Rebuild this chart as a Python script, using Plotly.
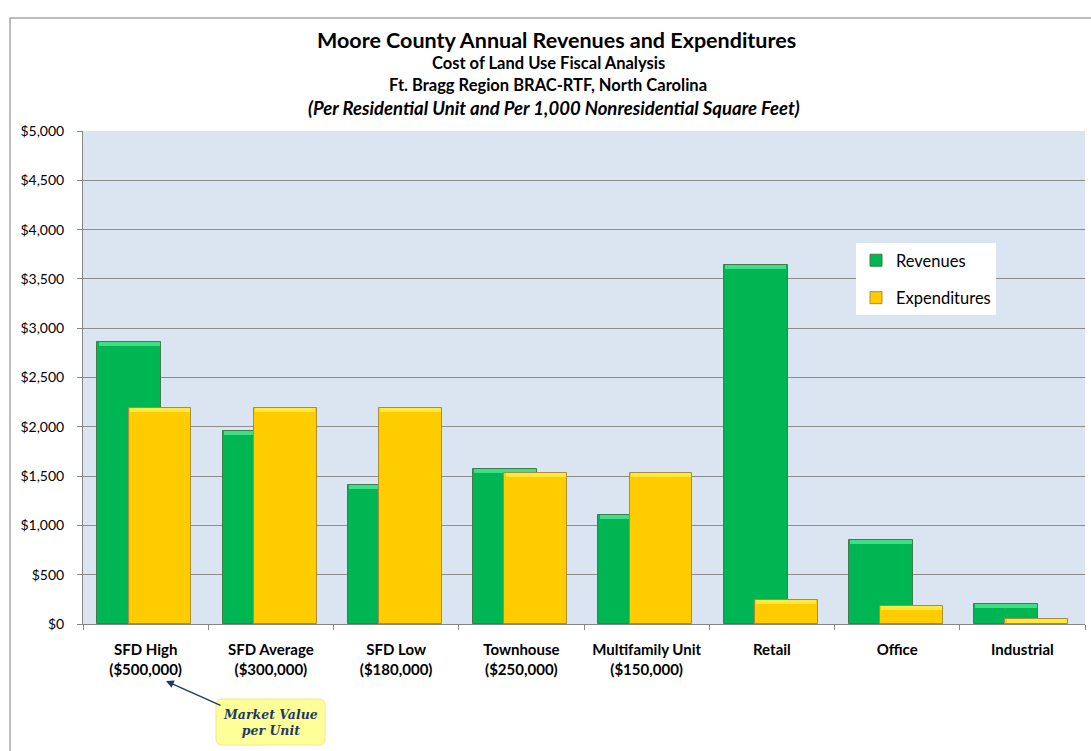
import plotly.graph_objects as go

categories = ["SFD High<br>($500,000)", "SFD Average<br>($300,000)", "SFD Low<br>($180,000)",
              "Townhouse<br>($250,000)", "Multifamily Unit<br>($150,000)", "Retail", "Office", "Industrial"]
revenues = [2860, 1955, 1405, 1570, 1110, 3645, 850, 205]
expenditures = [2195, 2195, 2195, 1530, 1530, 240, 180, 55]
y_ticks = [0, 500, 1000, 1500, 2000, 2500, 3000, 3500, 4000, 4500, 5000]
y_tick_labels = ["$0", "$500", "$1,000", "$1,500", "$2,000", "$2,500", "$3,000",
                 "$3,500", "$4,000", "$4,500", "$5,000"]

FONT = "Lato"
W, H = 1091, 751
L, R, T, B = 83, 6, 131, 127
PW = W - L - R
PH = H - T - B
BEVEL = 40  # data units for the lighter top strip

def px(x):
    return (x - L) / PW

def py(y):
    return (H - B - y) / PH

fig = go.Figure()
fig.add_trace(go.Bar(
    x=categories, y=revenues, name="Revenues",
    width=0.51, offset=-0.385,
    marker=dict(color="#00b652", line=dict(color="#3f7d4f", width=1)),
    legendgroup="a",
))
fig.add_trace(go.Bar(
    x=categories, y=[BEVEL] * len(revenues), base=[v - BEVEL for v in revenues],
    width=0.49, offset=-0.375, showlegend=False, hoverinfo="skip",
    marker=dict(color="#3fde86", line=dict(width=0)),
    legendgroup="a",
))
fig.add_trace(go.Bar(
    x=categories, y=expenditures, name="Expenditures",
    width=0.50, offset=-0.135,
    marker=dict(color="#ffcc00", line=dict(color="#a88d3a", width=1)),
    legendgroup="b",
))
fig.add_trace(go.Bar(
    x=categories, y=[BEVEL] * len(expenditures), base=[v - BEVEL for v in expenditures],
    width=0.48, offset=-0.125, showlegend=False, hoverinfo="skip",
    marker=dict(color="#ffe93c", line=dict(width=0)),
    legendgroup="b",
))

annotations = [
    dict(text="<b>Moore County Annual Revenues and Expenditures</b>", x=px(556), y=py(40),
         font=dict(size=21.5, color="#000000", family=FONT)),
    dict(text="<b>Cost of Land Use Fiscal Analysis</b>", x=px(548), y=py(63),
         font=dict(size=16.5, color="#000000", family=FONT)),
    dict(text="<b>Ft. Bragg Region BRAC-RTF, North Carolina</b>", x=px(548), y=py(85),
         font=dict(size=16.5, color="#000000", family=FONT)),
    dict(text="<b><i>(Per Residential Unit and Per 1,000 Nonresidential Square Feet)</i></b>", x=px(554), y=py(108),
         font=dict(size=18.5, color="#000000", family=FONT)),
    dict(text="<b><i>Market Value<br>per Unit</i></b>", x=px(270), y=py(722),
         font=dict(size=12.5, color="#1f3864", family="DejaVu Serif"), align="center"),
]
for a in annotations:
    a.update(xref="paper", yref="paper", showarrow=False, xanchor="center", yanchor="middle")

# arrow
annotations.append(dict(
    x=px(166), y=py(681), xref="paper", yref="paper",
    ax=56, ay=25, axref="pixel", ayref="pixel",
    showarrow=True, arrowhead=2, arrowsize=1.2, arrowwidth=1.3, arrowcolor="#1f3864", text="",
))

# rounded box path
x0, x1, y0, y1, r = 216, 325, 699, 745, 6
def P(x, y):
    return f"{px(x)},{py(y)}"
path = (f"M {P(x0+r, y0)} L {P(x1-r, y0)} Q {P(x1, y0)} {P(x1, y0+r)} "
        f"L {P(x1, y1-r)} Q {P(x1, y1)} {P(x1-r, y1)} L {P(x0+r, y1)} "
        f"Q {P(x0, y1)} {P(x0, y1-r)} L {P(x0, y0+r)} Q {P(x0, y0)} {P(x0+r, y0)} Z")

shapes = [
    dict(type="rect", xref="paper", yref="paper", x0=px(10), x1=px(1100), y0=py(18), y1=py(760),
         line=dict(color="#a6a6a6", width=1.5), fillcolor="rgba(0,0,0,0)", layer="below"),
    dict(type="path", xref="paper", yref="paper", path=path,
         fillcolor="#ffff99", line=dict(color="#f2e68c", width=1)),
]

fig.update_layout(
    width=W, height=H,
    margin=dict(l=L, r=R, t=T, b=B, pad=0),
    paper_bgcolor="white",
    plot_bgcolor="#dbe5f1",
    barmode="overlay",
    bargap=0,
    font=dict(family=FONT, size=13, color="#000000"),
    annotations=annotations,
    shapes=shapes,
    showlegend=True,
    legend=dict(x=px(856), y=py(243), xanchor="left", yanchor="top",
                bgcolor="white", borderwidth=0, font=dict(size=16.5, family=FONT),
                tracegroupgap=13, traceorder="grouped", itemwidth=30,
                itemclick=False),
    xaxis=dict(
        type="category", tickson="boundaries", ticks="outside", ticklen=5,
        tickcolor="#868686", showline=True, linecolor="#868686", linewidth=1,
        showgrid=False, tickfont=dict(size=15, family=FONT, color="#000000"),
        tickprefix="<b>", ticksuffix="</b>", range=[-0.5, 7.5],
        ticklabelstandoff=12,
    ),
    yaxis=dict(
        range=[0, 5000], tickvals=y_ticks, ticktext=y_tick_labels,
        ticks="outside", ticklen=5, tickcolor="#868686",
        showline=True, linecolor="#868686", linewidth=1,
        showgrid=True, gridcolor="#8c8c8c", gridwidth=1,
        tickfont=dict(size=14, family=FONT, color="#000000"),
        zeroline=False, ticklabelstandoff=10,
    ),
)

fig.write_html("out.html")
